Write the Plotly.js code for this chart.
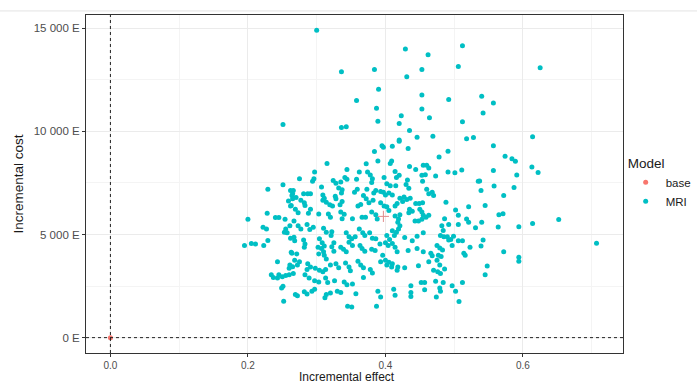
<!DOCTYPE html>
<html>
<head>
<meta charset="utf-8">
<script src="https://cdn.plot.ly/plotly-3.0.1.min.js"></script>
<style>html,body{margin:0;padding:0;background:#fff;overflow:hidden}#chart{width:697px;height:385px}</style>
</head>
<body>
<div id="chart"></div>
<script>
// Reference (base) model point
const baseEffect = [0];
const baseCost = [0];

// Mean of the MRI simulations (the "+" marker)
const meanEffect = [0.397];
const meanCost = [5880];

// MRI probabilistic simulations: [incremental effect, incremental cost]
const mriPoints = [
[0.300,14900],[0.429,14000],[0.462,13720],[0.336,12890],[0.384,13000],[0.453,13000],[0.431,12650],[0.390,12040],
[0.358,11500],[0.453,11770],[0.387,11120],[0.453,11090],[0.423,10760],[0.464,10660],[0.389,10490],[0.420,10380],
[0.251,10330],[0.336,10190],[0.343,10230],[0.435,10040],[0.446,9720],[0.420,9580],[0.420,9520],[0.395,9300],
[0.397,9230],[0.410,9280],[0.433,9170],[0.384,9030],[0.389,8570],[0.409,8570],[0.407,8440],[0.315,8440],
[0.372,8430],[0.435,8300],[0.455,8360],[0.460,8360],
[0.512,14150],[0.506,13150],[0.625,13090],[0.492,11550],[0.540,11710],[0.557,11380],[0.542,10890],[0.512,10470],
[0.469,9770],[0.518,9650],[0.528,9710],[0.614,9740],[0.557,9300],[0.491,9040],[0.478,8760],[0.574,8790],
[0.584,8680],[0.589,8550],[0.613,8280],
[0.622,8010],[0.557,8110],[0.591,7890],[0.537,7600],[0.558,7350],[0.587,7280],[0.539,7130],[0.572,6890],
[0.545,6410],[0.565,5960],[0.571,6010],[0.652,5730],[0.540,5600],[0.614,5540],[0.564,5360],[0.594,5380],
[0.542,4730],[0.707,4580],[0.572,4160],[0.594,3900],[0.594,3700],[0.548,3470],[0.545,3050],
[0.229,7200],[0.251,7410],[0.266,7130],[0.264,6890],[0.259,6620],[0.263,6410],[0.200,5740],[0.228,6030],
[0.240,5830],[0.245,5820],[0.254,5740],[0.261,5430],[0.255,5270],[0.253,5110],[0.257,5080],[0.222,5350],
[0.227,5270],[0.267,4870],[0.195,4470],[0.205,4570],[0.211,4540],[0.223,4470],[0.229,4710],[0.263,4140],
[0.243,3680],[0.261,3520],[0.265,3440],[0.260,3370],[0.234,3050],[0.237,2920],[0.245,3050],[0.243,2890],
[0.250,2950],[0.255,3010],[0.260,3050],[0.266,3110],[0.251,2490],[0.249,2410],[0.252,1760],[0.269,2090],
[0.297,8030],[0.344,8150],[0.362,8030],[0.374,8030],[0.378,7890],[0.275,7710],[0.296,7710],[0.294,7580],
[0.324,7620],[0.328,7490],[0.335,7550],[0.341,7770],[0.344,7680],[0.358,7680],[0.381,7710],[0.380,7520],
[0.398,7770],[0.307,7300],[0.332,7250],[0.337,7170],[0.336,7010],[0.359,7200],[0.355,7050],[0.373,7200],
[0.386,7140],[0.393,7090],[0.383,7010],[0.262,7140],[0.265,6980],[0.281,6980],[0.287,6980],[0.291,6980],
[0.309,6920],[0.311,6760],[0.309,6660],[0.270,6790],[0.265,6730],[0.327,6850],[0.328,6730],[0.368,6890],
[0.372,6730],[0.397,7050],[0.400,6920],[0.277,6660],[0.282,6540],[0.283,6410],[0.314,6570],[0.319,6440],
[0.323,6380],[0.337,6600],[0.334,6440],[0.382,6660],[0.393,6540],[0.376,6540],[0.360,6380],[0.364,6460],
[0.398,6380],[0.262,6380],[0.269,6220],[0.273,6060],[0.291,6220],[0.288,6030],[0.303,6000],[0.317,6000],
[0.320,5840],[0.335,6090],[0.340,5980],[0.337,5770],[0.352,5770],[0.366,5840],[0.371,5840],[0.380,6090],
[0.386,5960],[0.388,5750],[0.267,5650],[0.273,5430],[0.277,5270],[0.286,5490],[0.295,5350],[0.290,5240],
[0.310,5300],[0.314,5110],[0.322,5140],[0.321,4950],[0.343,5080],[0.347,4890],[0.351,4790],[0.356,4890],
[0.362,5270],[0.367,5080],[0.370,4950],[0.377,5080],[0.381,4820],[0.386,4790],[0.402,4950],[0.262,4820],
[0.268,4700],[0.281,4730],[0.283,4540],[0.282,4380],[0.304,4790],[0.308,4600],[0.311,4440],[0.307,4320],
[0.310,4160],[0.302,4380],[0.303,4060],[0.311,4000],[0.314,3810],[0.325,4600],[0.322,4410],[0.325,4190],
[0.335,4380],[0.339,4280],[0.343,4160],[0.347,4630],[0.352,4470],[0.363,4470],[0.366,4320],[0.370,4190],
[0.380,4280],[0.385,4220],[0.392,4540],[0.396,4000],[0.264,4090],[0.271,4060],[0.268,3750],[0.275,3680],
[0.272,3520],[0.287,3580],[0.291,3430],[0.286,3300],[0.298,3370],[0.304,3270],[0.309,3200],[0.313,3300],
[0.320,3520],[0.328,3580],[0.332,3390],[0.342,3620],[0.347,3430],[0.349,3240],[0.360,3710],[0.364,3520],
[0.368,3390],[0.378,3300],[0.381,3140],[0.393,3680],[0.283,3050],[0.289,2890],[0.297,2760],[0.303,2700],
[0.313,2890],[0.316,2670],[0.326,2760],[0.340,2700],[0.344,2570],[0.352,2600],[0.368,2920],[0.282,2220],
[0.286,2120],[0.293,2250],[0.297,2350],[0.272,2030],[0.312,1940],[0.314,2090],[0.320,2160],[0.330,2250],
[0.335,2190],[0.357,2130],[0.389,2250],[0.393,1970],[0.345,1520],[0.351,1490],[0.387,1520],
[0.414,8060],[0.420,7870],[0.416,7770],[0.444,8150],[0.463,8220],[0.453,7870],[0.458,7900],[0.454,7580],
[0.473,7840],[0.491,8030],[0.501,8000],[0.511,8130],[0.535,7580],[0.402,7460],[0.407,7360],[0.415,7360],
[0.432,7650],[0.430,7430],[0.434,7240],[0.460,7200],[0.463,6980],[0.470,6890],[0.468,7050],[0.405,7010],
[0.410,6920],[0.421,6760],[0.427,6820],[0.431,6700],[0.436,6760],[0.425,6600],[0.417,6510],[0.414,6380],
[0.444,6510],[0.449,6510],[0.454,6540],[0.488,6570],[0.521,6350],[0.402,6350],[0.405,6160],[0.435,6220],
[0.439,6130],[0.434,6060],[0.450,6220],[0.453,6090],[0.455,5940],[0.459,5840],[0.453,5740],[0.463,5940],
[0.502,6190],[0.506,5940],[0.414,5900],[0.421,5960],[0.419,5750],[0.443,5650],[0.448,5650],[0.486,5770],
[0.492,5490],[0.482,5430],[0.484,5200],[0.506,5490],[0.521,5590],[0.518,5750],[0.531,5330],[0.418,5590],
[0.421,5430],[0.419,5270],[0.416,5110],[0.413,4950],[0.410,5180],[0.455,5080],[0.480,4950],[0.485,4890],
[0.490,4890],[0.495,4760],[0.499,4920],[0.506,4700],[0.512,4700],[0.492,4730],[0.497,4470],[0.406,4760],
[0.428,4860],[0.439,4700],[0.446,4920],[0.400,4600],[0.404,4470],[0.410,4570],[0.414,4380],[0.417,4160],
[0.433,4220],[0.446,4320],[0.455,4160],[0.466,4090],[0.468,3970],[0.475,4470],[0.479,4350],[0.477,4000],
[0.481,3940],[0.483,4250],[0.514,4090],[0.516,4000],[0.523,4380],[0.539,4440],[0.400,3750],[0.405,3650],
[0.410,3580],[0.402,3520],[0.409,3430],[0.418,3430],[0.417,3270],[0.428,3390],[0.448,3490],[0.463,3680],
[0.475,3750],[0.479,3520],[0.470,3270],[0.476,3200],[0.480,3110],[0.486,3330],[0.452,2670],[0.457,2670],
[0.473,2730],[0.484,2670],[0.512,2670],[0.437,2510],[0.412,2350],[0.457,2320],[0.479,2410],[0.480,2250],
[0.497,2510],[0.502,2250],[0.414,2060],[0.437,2190],[0.437,2000],[0.474,1970],[0.507,1750]
];
const mriEffect = mriPoints.map(p => p[0]);
const mriCost = mriPoints.map(p => p[1]);

const costTickVals = [0, 5000, 10000, 15000];
const costTickText = ['0 E', '5 000 E', '10 000 E', '15 000 E'];
const effectTickVals = [0, 0.2, 0.4, 0.6];
const effectTickText = ['0.0', '0.2', '0.4', '0.6'];

const font = 'Liberation Sans, Arial, sans-serif';

const traces = [
  {
    x: baseEffect, y: baseCost, type: 'scatter', mode: 'markers', name: 'base',
    marker: {color: '#F8766D', size: 5}, cliponaxis: false
  },
  {
    x: mriEffect, y: mriCost, type: 'scatter', mode: 'markers', name: 'MRI',
    marker: {color: '#00BFC4', size: 5}
  },
  {
    x: meanEffect, y: meanCost, type: 'scatter', mode: 'markers', showlegend: false,
    marker: {symbol: 'cross-thin-open', size: 8, color: '#e08a8a', line: {color: '#e08a8a', width: 1}}
  }
];

const layout = {
  width: 697, height: 385,
  margin: {l: 86, r: 74, t: 15, b: 32, autoexpand: false},
  paper_bgcolor: '#fff', plot_bgcolor: '#fff',
  font: {family: font, size: 11, color: '#4d4d4d'},
  showlegend: true,
  legend: {
    x: 1.005, y: 0.6, xanchor: 'left', yanchor: 'top',
    title: {text: 'Model', font: {family: font, size: 13.5, color: '#1a1a1a'}},
    font: {family: font, size: 11.5, color: '#1a1a1a'},
    itemwidth: 30, tracegroupgap: 0, bgcolor: 'rgba(0,0,0,0)'
  },
  xaxis: {
    range: [-0.0355, 0.7455], tickvals: effectTickVals, ticktext: effectTickText,
    ticks: 'outside', ticklen: 3, tickcolor: '#333', tickfont: {size: 10, color: '#4d4d4d'},
    showgrid: true, gridcolor: '#ebebeb', gridwidth: 1,
    minor: {tickvals: [0.1, 0.3, 0.5, 0.7], showgrid: true, gridcolor: '#f4f4f4', gridwidth: 1, ticks: ''},
    zeroline: false, showline: true, linecolor: '#333', linewidth: 1, mirror: true,
    automargin: false
  },
  yaxis: {
    range: [-745, 15645], tickvals: costTickVals, ticktext: costTickText,
    ticks: 'outside', ticklen: 3, tickcolor: '#333', tickfont: {size: 11.5, color: '#4d4d4d'},
    showgrid: true, gridcolor: '#ebebeb', gridwidth: 1,
    minor: {tickvals: [2500, 7500, 12500], showgrid: true, gridcolor: '#f4f4f4', gridwidth: 1, ticks: ''},
    zeroline: false, showline: true, linecolor: '#333', linewidth: 1, mirror: true,
    automargin: false,
    title: {text: 'Incremental cost', font: {family: font, size: 13.5, color: '#1a1a1a'}, standoff: 6}
  },
  annotations: [
    {text: 'Incremental effect', xref: 'paper', yref: 'paper', x: 0.486, y: -32 / 338,
     xanchor: 'center', yanchor: 'bottom', showarrow: false, borderpad: 0,
     font: {family: font, size: 12, color: '#1a1a1a'}}
  ],
  shapes: [
    {type: 'line', xref: 'x', yref: 'paper', x0: 0, x1: 0, y0: 0, y1: 1,
     line: {color: '#222', width: 1, dash: '3px,3px'}},
    {type: 'line', xref: 'paper', yref: 'y', x0: 0, x1: 1, y0: 0, y1: 0,
     line: {color: '#222', width: 1, dash: '3px,3px'}},
    {type: 'line', xref: 'paper', yref: 'paper', x0: -0.17, x1: 1.15, y0: 1.012, y1: 1.012,
     line: {color: '#e3e3e3', width: 1}}
  ]
};

Plotly.newPlot('chart', traces, layout, {displayModeBar: false, staticPlot: true});
</script>
</body>
</html>
